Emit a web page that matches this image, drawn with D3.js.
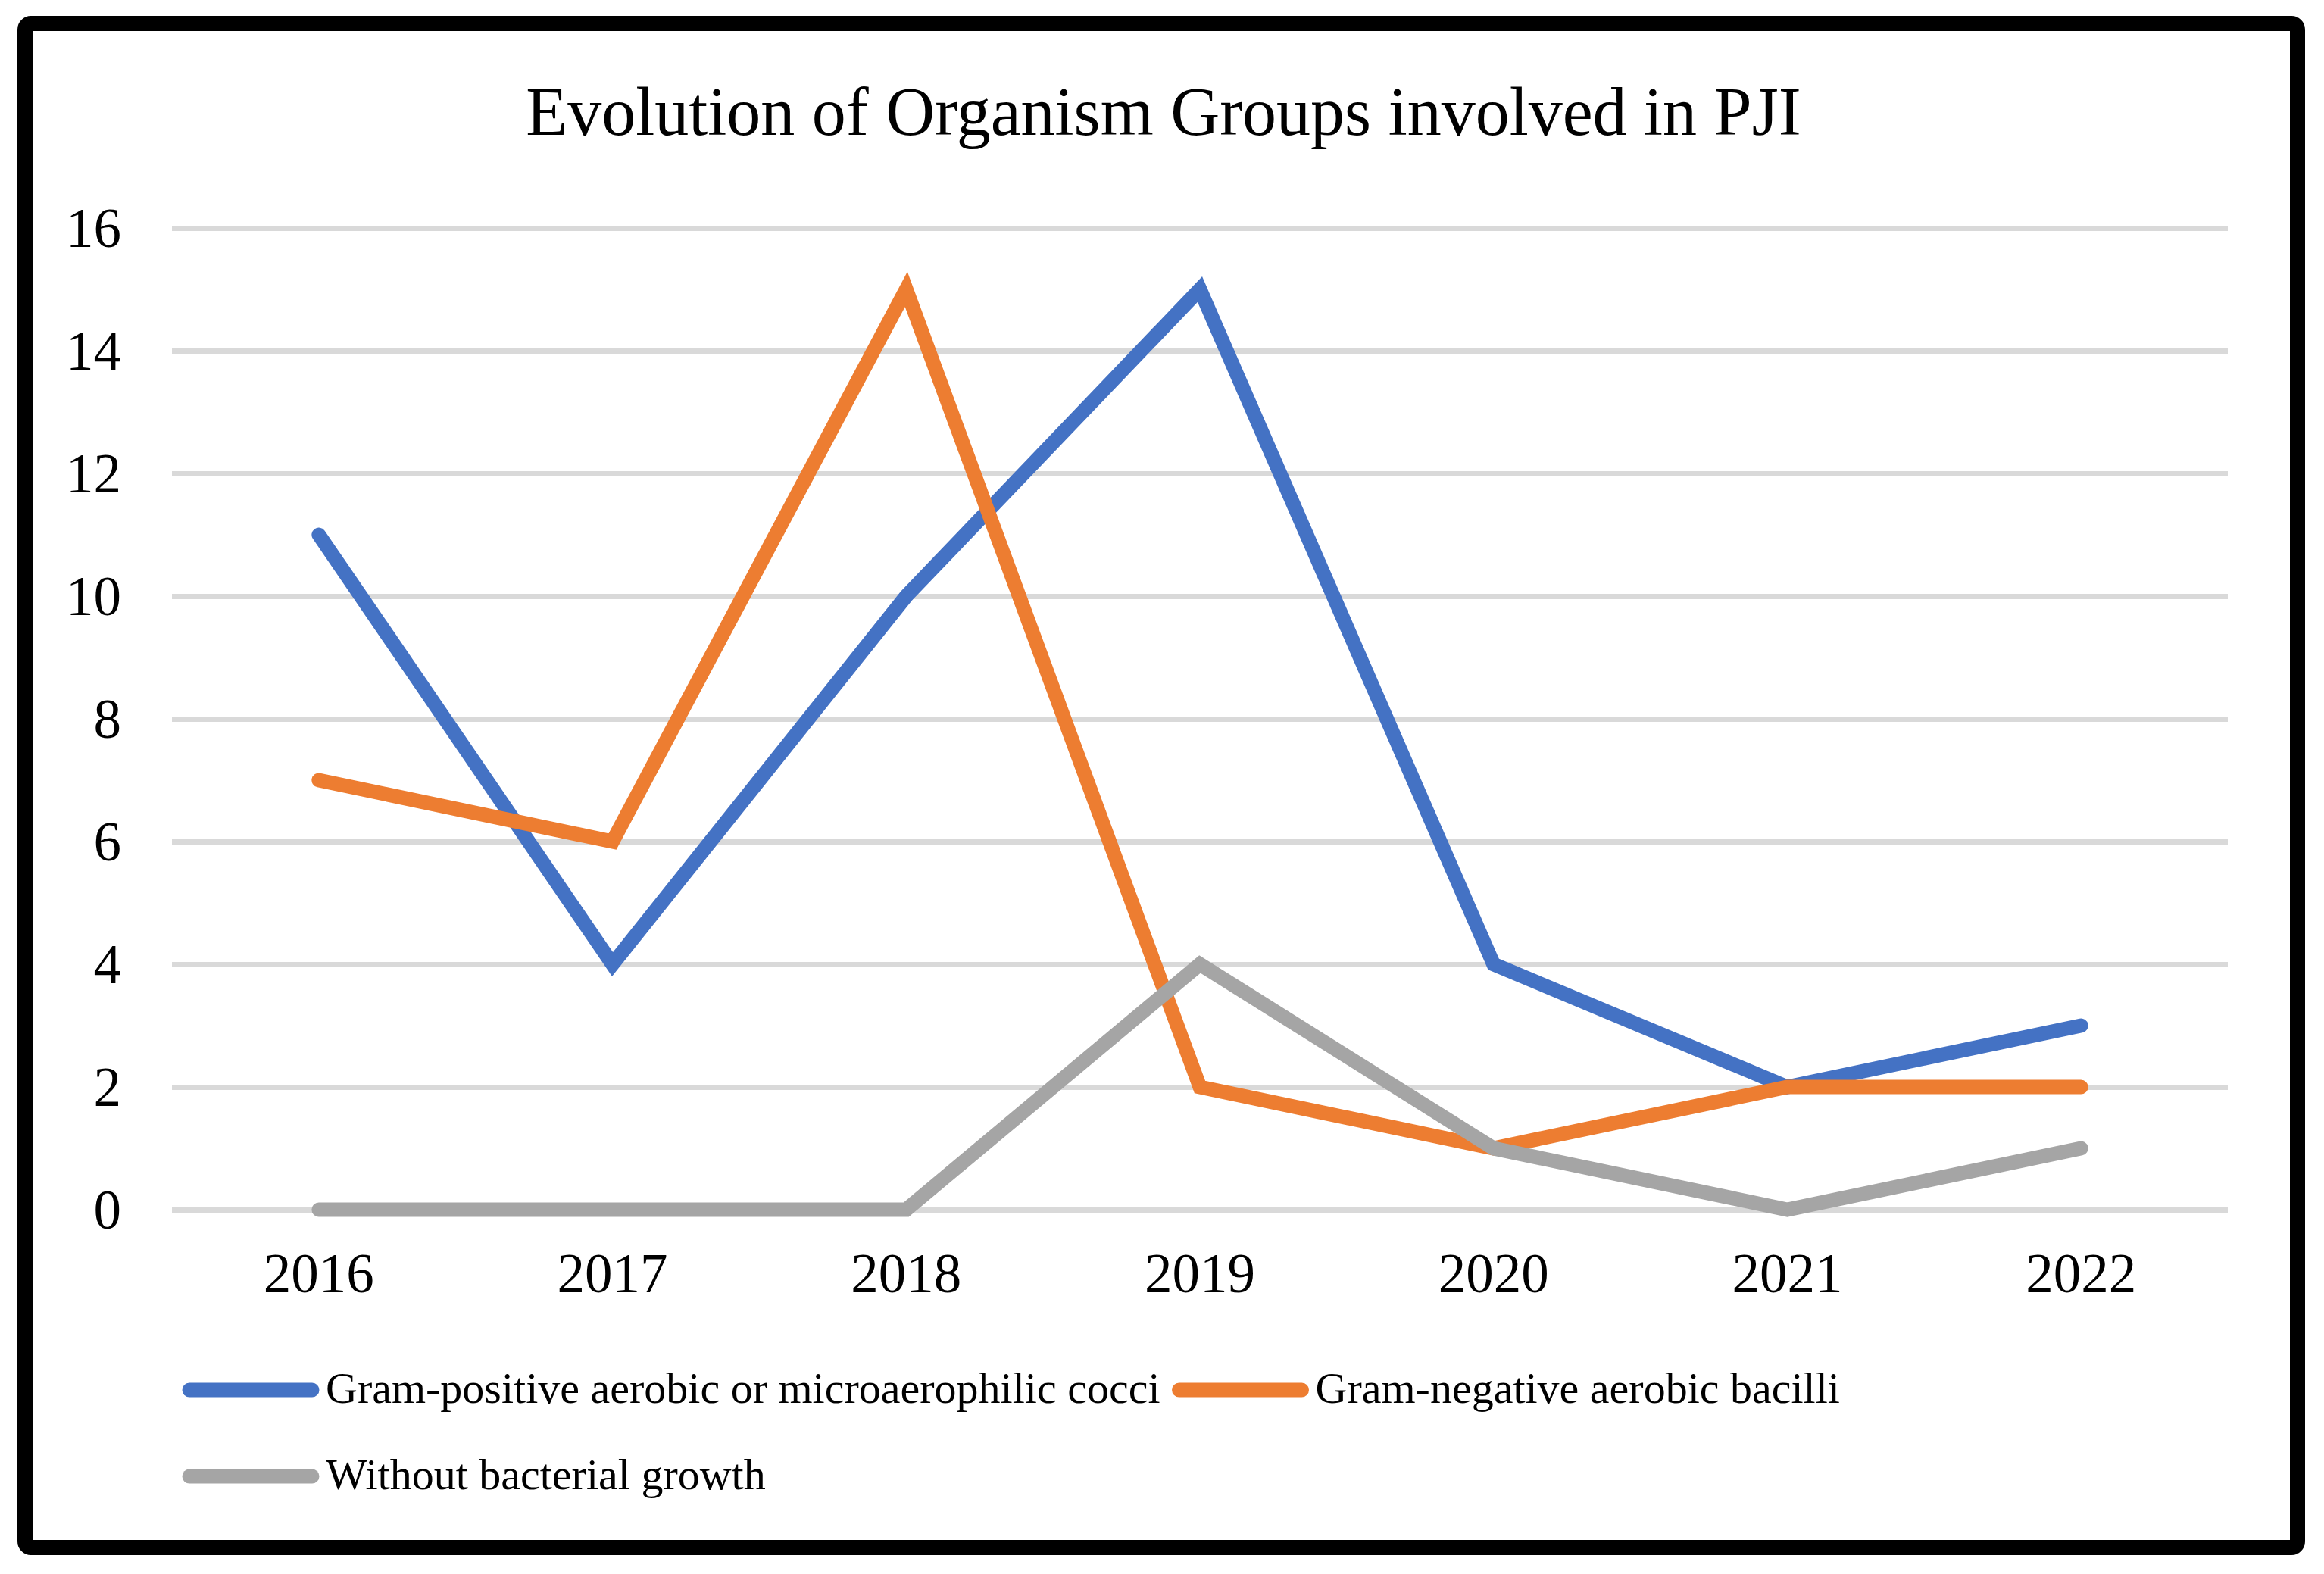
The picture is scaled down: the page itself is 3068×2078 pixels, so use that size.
<!DOCTYPE html>
<html>
<head>
<meta charset="utf-8">
<script src="https://cdn.jsdelivr.net/npm/d3@7"></script>
<style>
  html, body { margin: 0; padding: 0; background: #fff; }
  svg, svg text { font-family: "Liberation Serif", "Times New Roman", serif !important; }
</style>
</head>
<body>
<div id="chart"></div>
<script>
const years = ['2016', '2017', '2018', '2019', '2020', '2021', '2022'];
const gramPositive = [11, 4, 10, 15, 4, 2, 3];
const gramNegative = [7, 6, 15, 2, 1, 2, 2];
const noGrowth = [0, 0, 0, 4, 1, 0, 1];
const yTicks = [0, 2, 4, 6, 8, 10, 12, 14, 16];

const series = [
    {name: 'Gram-positive aerobic or microaerophilic cocci', values: gramPositive, color: '#4472C4'},
    {name: 'Gram-negative aerobic bacilli', values: gramNegative, color: '#ED7D31'},
    {name: 'Without bacterial growth', values: noGrowth, color: '#A5A5A5'}
];

const width = 3068, height = 2078;
const plot = {left: 227, right: 2941, top: 301, bottom: 1597};

const svg = d3.select('#chart').append('svg')
    .attr('width', width)
    .attr('height', height);

// frame
svg.append('rect')
    .attr('x', 33).attr('y', 31)
    .attr('width', 3000).attr('height', 2012)
    .attr('rx', 8)
    .attr('fill', '#fff')
    .attr('stroke', '#000')
    .attr('stroke-width', 20);

svg.append('text')
    .attr('x', 1536).attr('y', 178)
    .attr('text-anchor', 'middle')
    .attr('font-size', 90)
    .text('Evolution of Organism Groups involved in PJI');

const x = d3.scaleBand().domain(years).range([plot.left, plot.right]);
const y = d3.scaleLinear().domain([0, 16]).range([plot.bottom, plot.top]);

// gridlines + y labels
const yAxis = svg.append('g')
    .attr('transform', `translate(${plot.left},0)`)
    .call(d3.axisLeft(y).tickValues(yTicks).tickSize(-(plot.right - plot.left)).tickPadding(67));
yAxis.select('.domain').remove();
yAxis.selectAll('.tick line').attr('stroke', '#d9d9d9').attr('stroke-width', 7);
yAxis.selectAll('.tick text')
    .attr('font-size', 73)
    .attr('fill', '#000')
    .attr('dy', '0.34em');

// x labels
const xAxis = svg.append('g')
    .attr('transform', `translate(0,${plot.bottom})`)
    .call(d3.axisBottom(x).tickSize(0).tickPadding(0));
xAxis.select('.domain').remove();
xAxis.selectAll('.tick text')
    .attr('font-size', 73)
    .attr('fill', '#000')
    .attr('dy', 0)
    .attr('y', 109);

const line = d3.line()
    .x((d, i) => x(years[i]) + x.bandwidth() / 2)
    .y(d => y(d));

series.forEach(s => {
    svg.append('path')
        .datum(s.values)
        .attr('d', line)
        .attr('fill', 'none')
        .attr('stroke', s.color)
        .attr('stroke-width', 19)
        .attr('stroke-linecap', 'round')
        .attr('stroke-linejoin', 'miter');
});

// legend
const legend = svg.append('g');
const rows = [[0, 1], [2]];
const rowY = [1835, 1949];
rows.forEach((row, r) => {
    let lx = 241;
    row.forEach(k => {
        const s = series[k];
        legend.append('line')
            .attr('x1', lx + 9).attr('x2', lx + 171)
            .attr('y1', rowY[r]).attr('y2', rowY[r])
            .attr('stroke', s.color)
            .attr('stroke-width', 19)
            .attr('stroke-linecap', 'round');
        const t = legend.append('text')
            .attr('x', lx + 189)
            .attr('y', rowY[r] + 17)
            .attr('font-size', 58)
            .text(s.name);
        lx += 189 + t.node().getComputedTextLength() + 16;
    });
});
</script>
</body>
</html>
